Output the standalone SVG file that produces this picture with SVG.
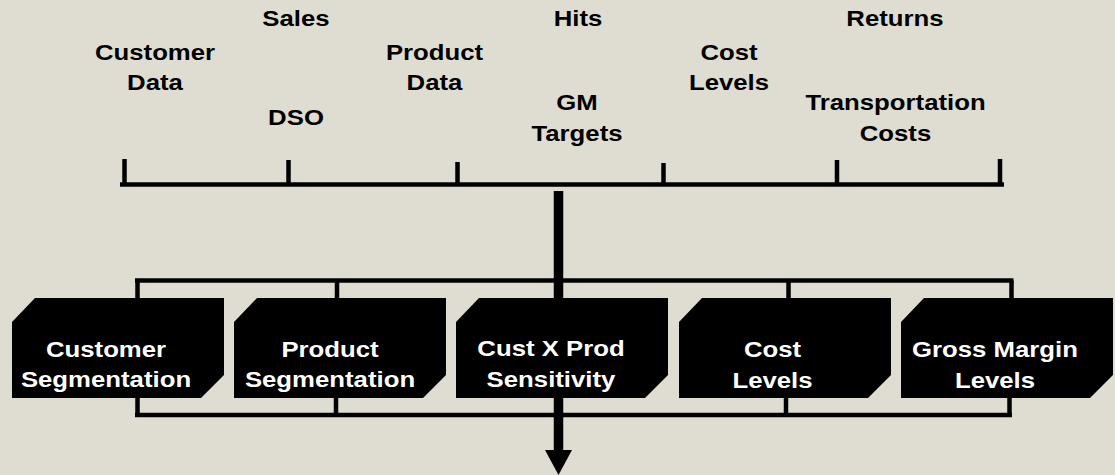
<svg xmlns="http://www.w3.org/2000/svg" width="1115" height="475" viewBox="0 0 1115 475">
  <style>
    .bg { fill: #DFDDD2; }
    .ln { stroke: #000; stroke-width: 4.5; fill: none; stroke-linecap: butt; }
    .shaft { stroke: #000; stroke-width: 9.5; fill: none; }
    .box { fill: #000; }
    .lbl { font-family: "Liberation Sans", Arial, sans-serif; font-weight: bold; font-size: 23px; fill: #000; text-anchor: middle; }
    .btxt { font-family: "Liberation Sans", Arial, sans-serif; font-weight: bold; font-size: 23px; fill: #fff; text-anchor: middle; }
  </style>
  <defs>
    <polygon id="boxShape" points="0,24 23,0 212,0 212,77 189,100 0,100"/>
  </defs>
  <rect class="bg" x="0" y="0" width="1115" height="475"/>

  <g id="connectors">
    <!-- top bracket -->
    <path class="ln" d="M120,184.5 H1004"/>
    <path class="ln" d="M124.5,159 V184.5 M288.5,160 V184.5 M457.5,162 V184.5 M663.5,163 V184.5 M837,160 V184.5 M1000,159 V184.5"/>
    <!-- lower bracket -->
    <path class="ln" d="M135,280.5 H1013.5"/>
    <path class="ln" d="M137.5,280.5 V300 M337,280.5 V300 M788.5,280.5 V300 M1011.5,280.5 V300"/>
    <path class="ln" d="M135,415 H1012"/>
    <path class="ln" d="M137.5,396 V415 M336,396 V415 M786,396 V415 M1009.5,396 V415"/>
    <!-- main arrow -->
    <path class="shaft" d="M558.5,191 V451"/>
    <polygon points="545,450 572,450 558.5,475" fill="#000"/>
  </g>

  <g id="label-customer-data" transform="translate(155,0) scale(1.12,1)">
    <text class="lbl" x="0" y="60">Customer</text>
    <text class="lbl" x="0" y="90">Data</text>
  </g>
  <g id="label-sales" transform="translate(296,0) scale(1.12,1)">
    <text class="lbl" x="0" y="26">Sales</text>
  </g>
  <g id="label-dso" transform="translate(296,0) scale(1.12,1)">
    <text class="lbl" x="0" y="125">DSO</text>
  </g>
  <g id="label-product-data" transform="translate(434.5,0) scale(1.12,1)">
    <text class="lbl" x="0" y="60">Product</text>
    <text class="lbl" x="0" y="90">Data</text>
  </g>
  <g id="label-hits" transform="translate(578,0) scale(1.12,1)">
    <text class="lbl" x="0" y="26">Hits</text>
  </g>
  <g id="label-gm-targets" transform="translate(577,0) scale(1.12,1)">
    <text class="lbl" x="0" y="110">GM</text>
    <text class="lbl" x="0" y="141">Targets</text>
  </g>
  <g id="label-cost-levels" transform="translate(729,0) scale(1.12,1)">
    <text class="lbl" x="0" y="60">Cost</text>
    <text class="lbl" x="0" y="90">Levels</text>
  </g>
  <g id="label-returns" transform="translate(895,0) scale(1.12,1)">
    <text class="lbl" x="0" y="26">Returns</text>
  </g>
  <g id="label-transportation-costs" transform="translate(895.5,0) scale(1.12,1)">
    <text class="lbl" x="0" y="110">Transportation</text>
    <text class="lbl" x="0" y="141">Costs</text>
  </g>

  <g id="node-customer-segmentation">
    <use href="#boxShape" class="box" x="12" y="298"/>
    <g transform="translate(106,0) scale(1.12,1)">
      <text class="btxt" x="0" y="357">Customer</text>
      <text class="btxt" x="0" y="387">Segmentation</text>
    </g>
  </g>
  <g id="node-product-segmentation">
    <use href="#boxShape" class="box" x="234" y="298"/>
    <g transform="translate(330,0) scale(1.12,1)">
      <text class="btxt" x="0" y="357">Product</text>
      <text class="btxt" x="0" y="387">Segmentation</text>
    </g>
  </g>
  <g id="node-cust-x-prod">
    <use href="#boxShape" class="box" x="456" y="298"/>
    <g transform="translate(551,0) scale(1.12,1)">
      <text class="btxt" x="0" y="356">Cust X Prod</text>
      <text class="btxt" x="0" y="387">Sensitivity</text>
    </g>
  </g>
  <g id="node-cost-levels">
    <use href="#boxShape" class="box" x="679" y="298"/>
    <g transform="translate(772.5,0) scale(1.12,1)">
      <text class="btxt" x="0" y="357">Cost</text>
      <text class="btxt" x="0" y="388">Levels</text>
    </g>
  </g>
  <g id="node-gross-margin-levels">
    <use href="#boxShape" class="box" x="901" y="298"/>
    <g transform="translate(995,0) scale(1.12,1)">
      <text class="btxt" x="0" y="357">Gross Margin</text>
      <text class="btxt" x="0" y="388">Levels</text>
    </g>
  </g>
</svg>
